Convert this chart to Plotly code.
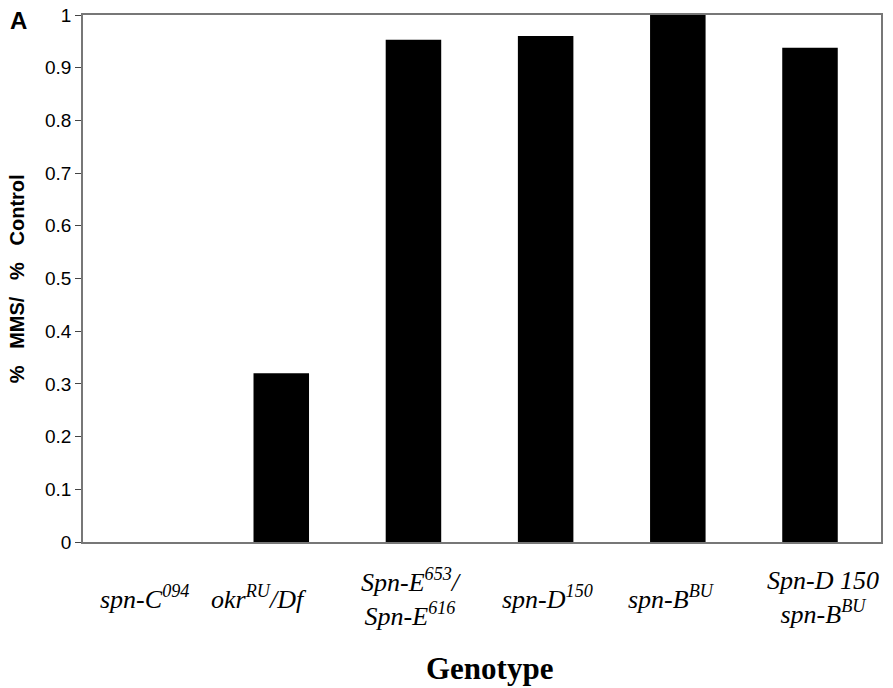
import plotly.graph_objects as go

categories = ["spn-C094", "okrRU/Df", "Spn-E653/Spn-E616", "spn-D150", "spn-BBU", "Spn-D 150 spn-BBU"]
values = [0.0, 0.32, 0.953, 0.96, 1.0, 0.938]
tick_labels = [
    "<i>spn-C<sup>094</sup></i>",
    "<i>okr<sup>RU</sup>/Df</i>",
    "<i>Spn-E<sup>653</sup>/</i><br><i>Spn-E<sup>616</sup></i>",
    "<i>spn-D<sup>150</sup></i>",
    "<i>spn-B<sup>BU</sup></i>",
    "<i>Spn-D 150</i><br><i>spn-B<sup>BU</sup></i>",
]
label_xshift = [-5, -22, -2, 2, -6, 13]
y_ticks = [0, 0.1, 0.2, 0.3, 0.4, 0.5, 0.6, 0.7, 0.8, 0.9, 1]
y_tick_text = ["0", "0.1", "0.2", "0.3", "0.4", "0.5", "0.6", "0.7", "0.8", "0.9", "1"]

fig = go.Figure()
fig.add_trace(go.Bar(
    x=categories, y=values,
    marker=dict(color="black", line=dict(width=0)),
    width=0.42,
    hoverinfo="skip",
))

annotations = []
for cat, lab, dx in zip(categories, tick_labels, label_xshift):
    annotations.append(dict(
        x=cat, xref="x", y=-0.105, yref="paper", text=lab, showarrow=False,
        xanchor="center", yanchor="middle", align="center", xshift=dx,
        font=dict(family="Liberation Serif", size=26, color="black"),
    ))
annotations.append(dict(
    x=0.51, xref="paper", y=-0.24, yref="paper", text="<b>Genotype</b>",
    showarrow=False, xanchor="center", yanchor="middle",
    font=dict(family="Liberation Serif", size=31, color="black"),
))
annotations.append(dict(
    x=-0.081, xref="paper", y=0.99, yref="paper", text="<b>A</b>", showarrow=False,
    xanchor="center", yanchor="middle",
    font=dict(family="Liberation Sans", size=24, color="black"),
))
annotations.append(dict(
    x=-0.083, xref="paper", y=0.5, yref="paper",
    text="<b>%   MMS/   %   Control</b>", showarrow=False, textangle=-90,
    xanchor="center", yanchor="middle",
    font=dict(family="Liberation Sans", size=20, color="black"),
))

fig.update_layout(
    width=893, height=688,
    margin=dict(l=83, r=12, t=15, b=146),
    plot_bgcolor="white", paper_bgcolor="white",
    showlegend=False,
    annotations=annotations,
    xaxis=dict(
        showticklabels=False, ticks="", showgrid=False,
        showline=True, linecolor="#777777", linewidth=1.5, mirror=True,
        zeroline=False, automargin=False,
    ),
    yaxis=dict(
        range=[0, 1], tickvals=y_ticks, ticktext=y_tick_text,
        ticks="outside", ticklen=6, tickcolor="#444444",
        showgrid=False, zeroline=False, automargin=False,
        ticklabeloverflow="allow",
        showline=True, linecolor="#777777", linewidth=1.5, mirror=True,
        tickfont=dict(family="Liberation Sans", size=19, color="black"),
    ),
)

# remove the page's default body margin so the figure fills the window exactly
fig.write_html(
    "out.html",
    config={"displayModeBar": False},
    post_script="document.body.style.margin='0';document.body.style.overflow='hidden';",
)
